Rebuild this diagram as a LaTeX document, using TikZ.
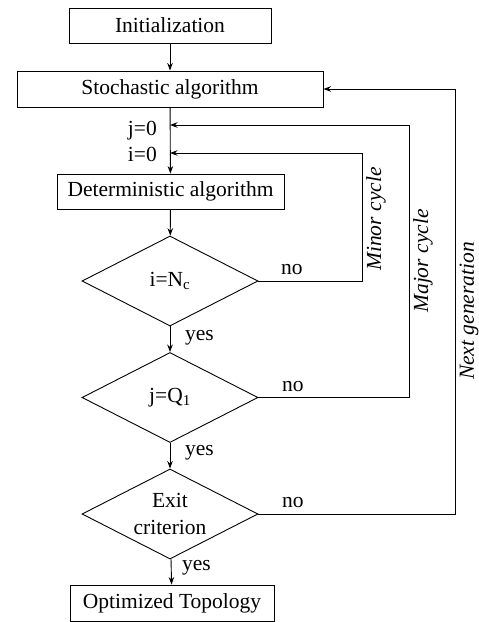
\documentclass[tikz,border=0pt]{standalone}
\usepackage{fontspec}
\setmainfont{Liberation Serif}
\usetikzlibrary{shapes.geometric,arrows.meta}
\begin{document}
\begin{tikzpicture}[x=1pt,y=-1pt,
  every node/.style={font=\fontsize{21.5}{26.5}\selectfont},
  box/.style={draw,line width=0.9pt,inner sep=0pt},
  dec/.style={draw,diamond,shape aspect=2,line width=0.9pt,inner sep=0pt,minimum width=176pt,minimum height=90pt,align=center},
  conn/.style={line width=0.9pt,-{Stealth[length=7.5pt,width=5.5pt]}},
  lbl/.style={inner sep=0pt},
  cyc/.style={inner sep=0pt,rotate=90,font=\fontsize{21.5}{26}\selectfont\itshape}]
\useasboundingbox (0,0) rectangle (479,622);
% boxes
\node[box,minimum width=202pt,minimum height=35pt] (init) at (170,25.5) {Initialization};
\node[box,minimum width=306pt,minimum height=36pt] (stoch) at (170,89) {Stochastic algorithm};
\node[box,minimum width=227pt,minimum height=35pt] (det) at (170.5,191.5) {Deterministic algorithm};
\node[dec] (d1) at (170,281) {i=N\textsubscript{c}};
\node[dec] (d2) at (170,397.5) {j=Q\textsubscript{1}};
\node[dec] (d3) at (170,514) {Exit\\criterion};
\node[box,minimum width=204pt,minimum height=36pt] (opt) at (172,603) {Optimized Topology};
% junction points
\coordinate (jpt) at (170,125);
\coordinate (ipt) at (170,153);
% main flow
\draw[conn] (init) -- (stoch);
\draw[conn] (stoch) -- (det);
\draw[conn] (det) -- (d1);
\draw[conn] (d1) -- (d2);
\draw[conn] (d2) -- (d3);
\draw[conn] (d3) -- (opt);
% loops
\draw[conn] (d1.east) -- ++(104,0) |- (ipt);
\draw[conn] (d2.east) -- ++(151,0) |- (jpt);
\draw[conn] (d3.east) -- ++(197,0) |- (stoch.east);
% labels
\node[lbl,anchor=base east] (j0) at (157,135) {j=0};
\node[lbl,anchor=base east] (i0) at (157,161) {i=0};
\node[lbl,anchor=base west] (no1) at (281,274) {no};
\node[lbl,anchor=base west] (no2) at (282,391) {no};
\node[lbl,anchor=base west] (no3) at (282,507) {no};
\node[lbl,anchor=base west] (yes1) at (185,340) {yes};
\node[lbl,anchor=base west] (yes2) at (185,455) {yes};
\node[lbl,anchor=base west] (yes3) at (182,570) {yes};
\node[cyc] (minor) at (376,219) {Minor cycle};
\node[cyc] (major) at (423,261) {Major cycle};
\node[cyc] (nextg) at (469,311) {Next generation};
\end{tikzpicture}
\end{document}
